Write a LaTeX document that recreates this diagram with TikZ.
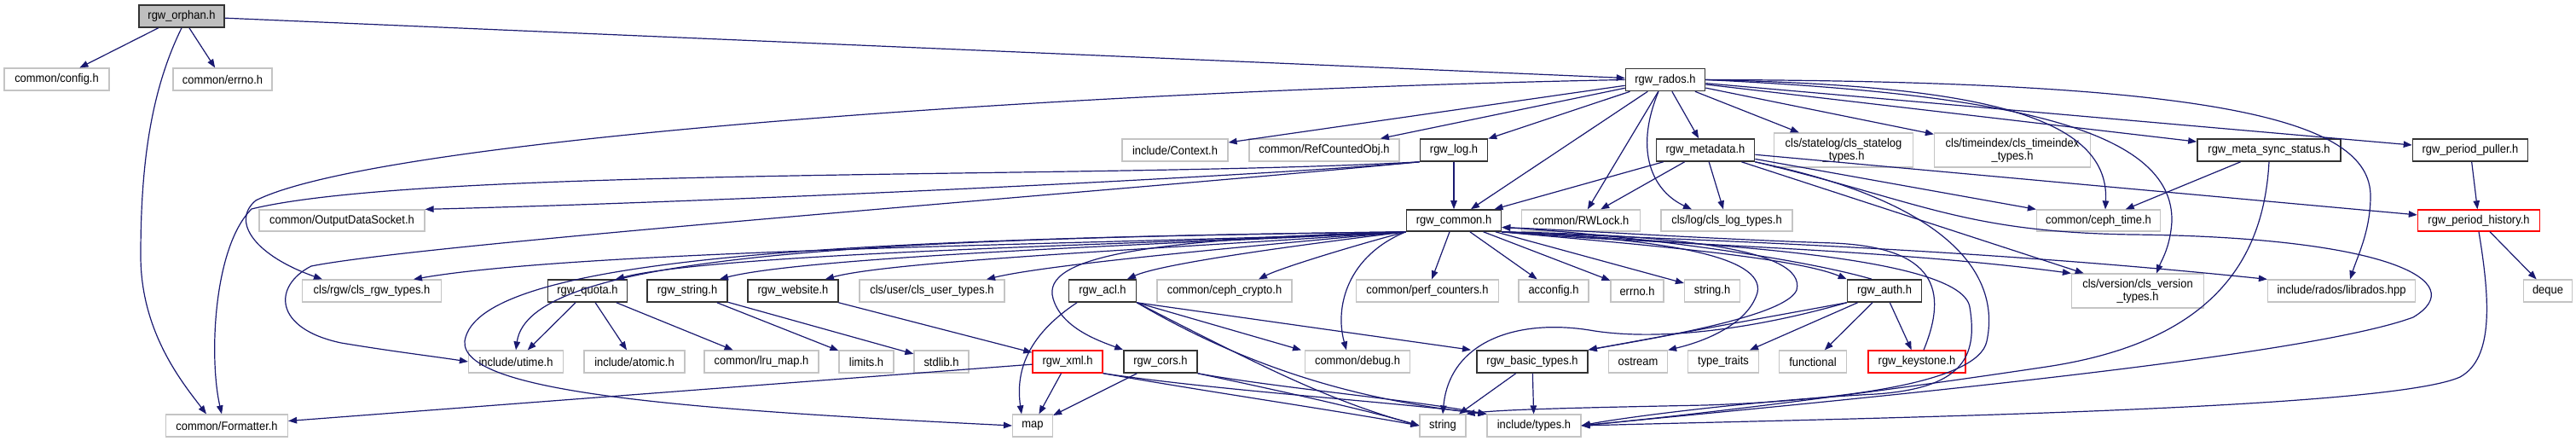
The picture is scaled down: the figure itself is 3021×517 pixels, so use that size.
\documentclass[tikz,border=0pt]{standalone}
\usepackage{fontspec}
\setmainfont{Liberation Sans}[FakeStretch=0.92]
\usetikzlibrary{arrows.meta}

\definecolor{edgeblue}{HTML}{191970}
\definecolor{boxgray}{HTML}{C4C4C4}
\definecolor{rootgray}{HTML}{BFBFBF}

\tikzset{
  hdr/.style={draw=boxgray, line width=0.12mm, fill=white, minimum height=2.6mm,
    inner sep=0pt, align=center, font=\fontsize{4}{4.3}\selectfont},
  doc/.style={hdr, draw=black!80, line width=0.16mm},
  undoc/.style={hdr, draw=red, line width=0.14mm},
  dep/.style={draw=edgeblue, line width=0.12mm, -{Triangle[length=1.0mm, width=0.75mm]}},
}

\begin{document}
\begin{tikzpicture}[x=0.1mm, y=-0.1mm]
\useasboundingbox (0,0) rectangle (3021,517);

% --- Row 1 / 2 ---
\node[doc, fill=rootgray, minimum width=10mm] (orphan) at (213,19) {rgw\_orphan.h};
\node[hdr, minimum width=12.3mm] (config) at (66.5,93) {common/config.h};
\node[hdr, minimum width=11.6mm] (errnoc) at (261,93) {common/errno.h};
\node[doc, minimum width=9.3mm] (rados) at (1953,93.5) {rgw\_rados.h};

% --- Row 3 ---
\node[hdr, minimum width=12.4mm] (context) at (1378,176) {include/Context.h};
\node[hdr, minimum width=17.6mm] (refcnt) at (1553,176) {common/RefCountedObj.h};
\node[doc, minimum width=7.9mm] (log) at (1705,176) {rgw\_log.h};
\node[doc, minimum width=11.5mm] (metadata) at (2000,176) {rgw\_metadata.h};
\node[hdr, minimum width=16.3mm, minimum height=4mm] (statelog) at (2162,176) {cls/statelog/cls\_statelog\\\_types.h};
\node[hdr, minimum width=18.3mm, minimum height=4mm] (timeindex) at (2360,176) {cls/timeindex/cls\_timeindex\\\_types.h};
\node[doc, minimum width=16.8mm] (metasync) at (2661,176) {rgw\_meta\_sync\_status.h};
\node[doc, minimum width=13.5mm] (puller) at (2897,176) {rgw\_period\_puller.h};

% --- Row 4 ---
\node[hdr, minimum width=19.4mm, minimum height=2.5mm] (ods) at (401,258.5) {common/OutputDataSocket.h};
\node[doc, minimum width=11.1mm, minimum height=2.5mm] (common) at (1705,258.5) {rgw\_common.h};
\node[hdr, minimum width=13.9mm, minimum height=2.5mm] (rwlock) at (1854,258.5) {common/RWLock.h};
\node[hdr, minimum width=15.4mm, minimum height=2.5mm] (clslog) at (2025,258.5) {cls/log/cls\_log\_types.h};
\node[hdr, minimum width=14.5mm, minimum height=2.5mm] (cephtime) at (2461,258.5) {common/ceph\_time.h};
\node[undoc, minimum width=14.3mm, minimum height=2.5mm] (history) at (2907,258.5) {rgw\_period\_history.h};

% --- Row 5 ---
\node[hdr, minimum width=16.3mm] (clsrgw) at (436,341) {cls/rgw/cls\_rgw\_types.h};
\node[doc, minimum width=9.3mm] (quota) at (689,341) {rgw\_quota.h};
\node[doc, minimum width=9.4mm] (strg) at (806,341) {rgw\_string.h};
\node[doc, minimum width=10.6mm] (website) at (930,341) {rgw\_website.h};
\node[hdr, minimum width=17mm] (clsuser) at (1093,341) {cls/user/cls\_user\_types.h};
\node[doc, minimum width=7.9mm] (acl) at (1293,341) {rgw\_acl.h};
\node[hdr, minimum width=15.8mm] (crypto) at (1436,341) {common/ceph\_crypto.h};
\node[hdr, minimum width=16.7mm] (perf) at (1674,341) {common/perf\_counters.h};
\node[hdr, minimum width=8.2mm] (acconfig) at (1822,341) {acconfig.h};
\node[hdr, minimum width=6.2mm] (errnoh) at (1920,341) {errno.h};
\node[hdr, minimum width=6.5mm] (stringh) at (2008,341) {string.h};
\node[doc, minimum width=8.7mm] (auth) at (2210,341) {rgw\_auth.h};
\node[hdr, minimum width=15.5mm, minimum height=4mm] (clsversion) at (2507,341) {cls/version/cls\_version\\\_types.h};
\node[hdr, minimum width=17.3mm] (librados) at (2746,341) {include/rados/librados.hpp};
\node[hdr, minimum width=5.7mm] (deque) at (2988,341) {deque};

% --- Row 6 ---
\node[hdr, minimum width=11.1mm] (utime) at (605,424) {include/utime.h};
\node[hdr, minimum width=11.8mm] (atomic) at (744,424) {include/atomic.h};
\node[hdr, minimum width=13.4mm] (lru) at (893,424) {common/lru\_map.h};
\node[hdr, minimum width=6.4mm] (limits) at (1016,424) {limits.h};
\node[hdr, minimum width=6.4mm] (stdlibh) at (1104,424) {stdlib.h};
\node[undoc, minimum width=8.2mm] (xml) at (1252,424) {rgw\_xml.h};
\node[doc, minimum width=8.6mm] (cors) at (1361,424) {rgw\_cors.h};
\node[hdr, minimum width=12.3mm] (debug) at (1592,424) {common/debug.h};
\node[doc, minimum width=13mm] (basic) at (1797,424) {rgw\_basic\_types.h};
\node[hdr, minimum width=6.9mm] (ostream) at (1921,424) {ostream};
\node[hdr, minimum width=8.3mm] (typetraits) at (2021,424) {type\_traits};
\node[hdr, minimum width=7.9mm] (functional) at (2126,424) {functional};
\node[undoc, minimum width=11.4mm] (keystone) at (2248,424) {rgw\_keystone.h};

% --- Row 7 ---
\node[hdr, minimum width=14.3mm] (formatter) at (266,499) {common/Formatter.h};
\node[hdr, minimum width=4.7mm] (map) at (1211,499) {map};
\node[hdr, minimum width=5.4mm] (string) at (1692,499) {string};
\node[hdr, minimum width=11mm] (types) at (1799,499) {include/types.h};

% --- rgw_orphan.h ---
\draw[dep] (orphan) -- (config);
\draw[dep] (orphan) -- (errnoc);
\draw[dep] (orphan) -- (rados);
\draw[dep] (orphan.south) .. controls (175,110) and (165,200) .. (165,300)
  .. controls (165,390) and (215,450) .. ([xshift=-2.4mm]formatter.north);

% --- rgw_rados.h ---
\draw[dep] (rados) -- (context);
\draw[dep] (rados) -- (refcnt);
\draw[dep] (rados) -- (log);
\draw[dep] (rados) -- (common);
\draw[dep] (rados) -- (rwlock);
\draw[dep] (rados) -- (metadata);
\draw[dep] (rados) -- (statelog);
\draw[dep] (rados) -- (timeindex);
\draw[dep] (rados) -- (metasync);
\draw[dep] (rados) -- (puller);
\draw[dep] ([xshift=-0.8mm]rados.south) .. controls (1915,180) and (1940,225) .. ([xshift=-4.1mm]clslog.north);
\draw[dep] (rados.east) .. controls (2300,100) and (2475,130) .. ([xshift=0.8mm]cephtime.north);
\draw[dep] (rados.east) .. controls (2350,110) and (2550,150) .. (2547,260)
  .. controls (2545,290) and (2535,305) .. ([xshift=2.2mm]clsversion.north);
\draw[dep] (rados.east) .. controls (2600,95) and (2780,140) .. (2780,230)
  .. controls (2780,270) and (2765,300) .. ([xshift=1mm]librados.north);
\draw[dep] (rados.west) .. controls (1300,105) and (450,160) .. (300,235)
  .. controls (270,260) and (300,300) .. ([xshift=-5.8mm]clsrgw.north);

% --- rgw_log.h ---
\draw[dep] (log) -- (common);
\draw[dep] (log.south west) .. controls (1500,205) and (900,235) .. (ods.north east);
\draw[dep] (log.south west) .. controls (1300,210) and (500,195) .. (295,245)
  .. controls (250,290) and (245,420) .. ([xshift=-0.6mm]formatter.north);
\draw[dep] (log.south west) .. controls (1300,225) and (500,285) .. (365,312)
  .. controls (320,335) and (320,385) .. (400,402)
  .. controls (460,412) and (510,418) .. (utime.west);

% --- rgw_metadata.h ---
\draw[dep] (metadata) -- (common);
\draw[dep] (metadata) -- (rwlock);
\draw[dep] (metadata) -- (clslog);
\draw[dep] (metadata) -- (cephtime);
\draw[dep] (metadata) -- (history);
\draw[dep] (metadata) -- (clsversion);
\draw[dep] (metadata.south east) .. controls (2250,235) and (2300,272) .. (2500,275)
  .. controls (2800,278) and (2900,330) .. (2830,372)
  .. controls (2700,420) and (2150,470) .. (types.east);
\draw[dep] (metadata.south east) .. controls (2300,240) and (2345,330) .. (2330,400)
  .. controls (2320,450) and (2150,470) .. (2000,475)
  .. controls (1850,478) and (1760,480) .. (string.north east);

% --- rgw_meta_sync_status.h / period ---
\draw[dep] (metasync) -- (cephtime);
\draw[dep] (metasync.south) .. controls (2655,300) and (2600,400) .. (2400,430)
  .. controls (2200,460) and (2000,485) .. (types.east);
\draw[dep] (puller) -- (history);
\draw[dep] (history) -- (deque);
\draw[dep] (history.south) .. controls (2920,350) and (2925,420) .. (2885,442)
  .. controls (2800,480) and (2200,490) .. (types.east);

% --- rgw_common.h ---
\draw[dep] (common.south west) .. controls (1400,285) and (700,290) .. ([xshift=4.9mm]clsrgw.north);
\draw[dep] (common.south west) .. controls (1400,285) and (850,295) .. ([xshift=3.3mm]quota.north);
\draw[dep] (common.south west) .. controls (1400,285) and (950,300) .. ([xshift=3.8mm]strg.north);
\draw[dep] (common.south west) .. controls (1400,290) and (1050,305) .. ([xshift=3.8mm]website.north);
\draw[dep] (common.south west) .. controls (1450,290) and (1230,310) .. ([xshift=6.4mm]clsuser.north);
\draw[dep] (common.south west) .. controls (1500,290) and (1360,310) .. ([xshift=2.9mm]acl.north);
\draw[dep] (common.south west) .. controls (1580,290) and (1500,315) .. ([xshift=4mm]crypto.north);
\draw[dep] (common.south west) .. controls (1000,280) and (620,300) .. (utime.north);
\draw[dep] (common.south west) .. controls (1000,280) and (560,300) .. (545,400)
  .. controls (540,460) and (800,480) .. (map.west);
\draw[dep] (common.south west) .. controls (1350,280) and (1220,300) .. (1235,350)
  .. controls (1245,385) and (1290,400) .. (cors.north west);
\draw[dep] (common.south west) .. controls (1580,300) and (1565,360) .. ([xshift=-1.3mm]debug.north);
\draw[dep] (common) -- (perf);
\draw[dep] (common) -- (acconfig);
\draw[dep] (common) -- (errnoh);
\draw[dep] (common) -- (stringh);
\draw[dep] (common.south east) .. controls (1900,285) and (2100,300) .. (auth.north west);
\draw[dep] (common.south east) .. controls (1900,285) and (2200,290) .. (clsversion.north west);
\draw[dep] (common.south east) .. controls (1950,280) and (2300,290) .. (librados.north west);
\draw[dep] (common.south east) .. controls (1950,275) and (2120,290) .. (2107,340)
  .. controls (2095,370) and (1950,395) .. ([yshift=1.4mm]basic.east);
\draw[dep] (common.south east) .. controls (1950,280) and (2070,300) .. (2061,343)
  .. controls (2050,380) and (2000,400) .. (ostream.north east);
\draw[dep] (common.south east) .. controls (2000,285) and (2300,300) .. (2310,360)
  .. controls (2320,420) and (2300,455) .. (2200,462)
  .. controls (2050,470) and (1900,490) .. (types.east);

% --- rgw_quota.h / rgw_string.h / rgw_website.h ---
\draw[dep] (quota) -- (utime);
\draw[dep] (quota) -- (atomic);
\draw[dep] (quota) -- (lru);
\draw[dep] (strg) -- (limits);
\draw[dep] (strg) -- (stdlibh);
\draw[dep] (website) -- (xml);

% --- rgw_acl.h / rgw_xml.h / rgw_cors.h ---
\draw[dep] ([xshift=-3mm]acl.south) .. controls (1210,390) and (1190,430) .. ([xshift=-1.3mm]map.north);
\draw[dep] (acl.south east) -- ([xshift=-6.6mm]debug.north);
\draw[dep] (acl.south east) -- ([xshift=-7.2mm]basic.north);
\draw[dep] (acl.south east) .. controls (1480,430) and (1560,470) .. (string.west);
\draw[dep] (acl.south east) .. controls (1470,435) and (1600,470) .. (types.north west);
\draw[dep] (xml) -- (map);
\draw[dep] (xml) -- (formatter);
\draw[dep] (xml.south east) .. controls (1420,460) and (1560,480) .. (string.west);
\draw[dep] (xml.south east) .. controls (1430,458) and (1620,470) .. (types.north west);
\draw[dep] (cors) -- (map);
\draw[dep] (cors.south east) .. controls (1500,458) and (1600,480) .. (string.west);
\draw[dep] (cors.south east) .. controls (1500,455) and (1650,468) .. (types.north west);

% --- rgw_basic_types.h / rgw_auth.h / rgw_keystone.h ---
\draw[dep] (basic) -- (string);
\draw[dep] (basic) -- (types);
\draw[dep] ([xshift=-1.5mm]auth.north) .. controls (2100,300) and (1900,275) .. ([yshift=-0.8mm]common.east);
\draw[dep] (auth.south west) -- (basic.north east);
\draw[dep] (auth) -- (typetraits);
\draw[dep] (auth) -- (functional);
\draw[dep] (auth) -- (keystone);
\draw[dep] (auth.south west) .. controls (2060,385) and (1950,400) .. (1870,388)
  .. controls (1780,372) and (1700,400) .. (string.north);
\draw[dep] ([xshift=0.8mm]keystone.north) .. controls (2285,340) and (2270,290) .. (2150,285)
  .. controls (2000,280) and (1850,270) .. ([yshift=-0.8mm]common.east);

\end{tikzpicture}
\end{document}
